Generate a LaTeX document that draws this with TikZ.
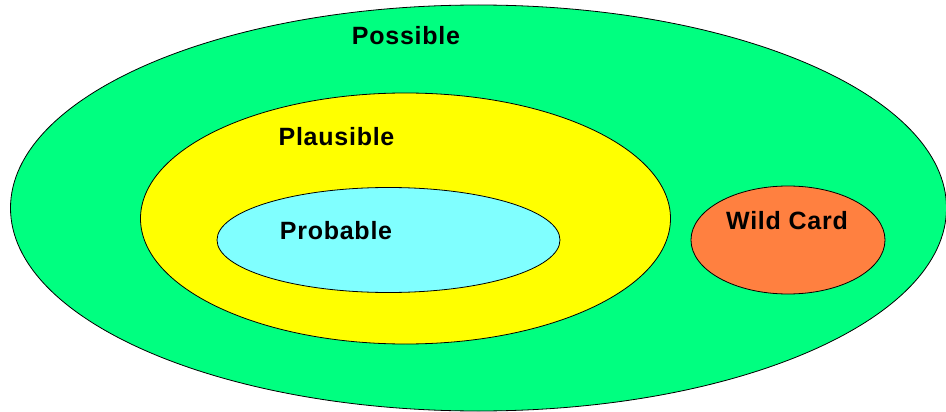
\documentclass[tikz,border=0pt]{standalone}
\usepackage{fontspec}
\setmainfont{Liberation Sans}[LetterSpace=3]
\definecolor{possgreen}{RGB}{0,255,128}
\definecolor{plausyellow}{RGB}{255,255,0}
\definecolor{probcyan}{RGB}{128,255,255}
\definecolor{wildorange}{RGB}{255,128,64}
\tikzset{
  zone/.style={draw=black,line width=0.8pt},
  zonelabel/.style={font=\fontsize{25}{30}\selectfont\bfseries,text=black,inner sep=0pt}
}
\begin{document}
\begin{tikzpicture}[x=1pt,y=-1pt]
  \useasboundingbox (0,0) rectangle (946,412);
  % nested sets
  \draw[zone,fill=possgreen] (478.5,208) ellipse [x radius=468pt,y radius=203pt];
  \draw[zone,fill=plausyellow] (405.5,218.5) ellipse [x radius=265pt,y radius=125.5pt];
  \draw[zone,fill=probcyan] (388.5,240) ellipse [x radius=171.5pt,y radius=52.5pt];
  \draw[zone,fill=wildorange] (788,240) ellipse [x radius=97pt,y radius=54pt];
  % labels
  \node[zonelabel] (possible) at (406,36) {Possible};
  \node[zonelabel] (plausible) at (336.5,137) {Plausible};
  \node[zonelabel] (probable) at (336,231) {Probable};
  \node[zonelabel] (wildcard) at (787,221) {Wild Card};
\end{tikzpicture}
\end{document}
